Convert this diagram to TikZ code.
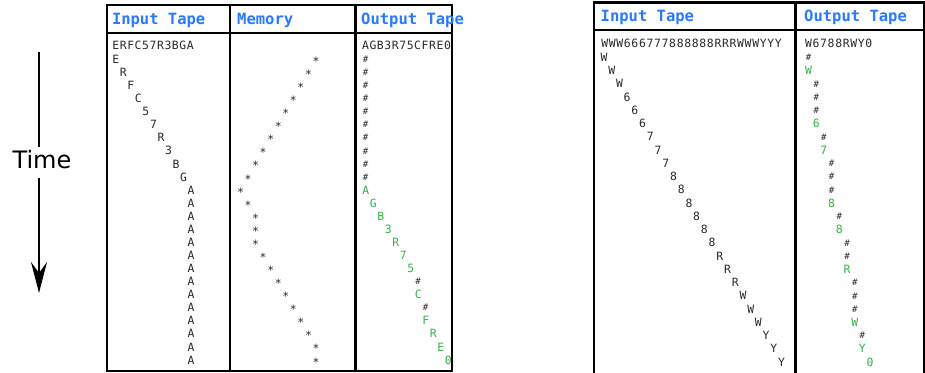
\documentclass[tikz,border=0pt]{standalone}
\usepackage{fontspec}
\setmonofont{DejaVu Sans Mono}
\setsansfont{DejaVu Sans}
\usetikzlibrary{arrows.meta}
\definecolor{hdrblue}{RGB}{41,121,255}
\definecolor{tapegreen}{RGB}{52,178,74}
\definecolor{ink}{RGB}{40,40,40}
\begin{document}
\begin{tikzpicture}[x=1pt,y=-1pt,
  cell/.style={inner sep=0pt, font=\fontsize{11.4}{12}\ttfamily, text=ink},
  hit/.style={cell, text=tapegreen},
  hsh/.style={inner sep=0pt, font=\fontsize{9}{10}\ttfamily, text=ink},
  memstar/.style={cell, yshift=-1.9pt},
  hdr/.style={inner sep=0pt, anchor=base west, font=\fontsize{15.5}{16}\ttfamily\bfseries, text=hdrblue},
  border/.style={line width=2.3pt},
  rule/.style={line width=1.2pt},
  timearrow/.style={line width=1.8pt}]
\useasboundingbox (0,0) rectangle (925,372);

% ---------- Time arrow ----------
\coordinate (tA) at (39,52);
\coordinate (tB) at (39,147);
\node[inner sep=0pt, font=\fontsize{24}{24}\sffamily] (time) at (42,160) {Time};
\coordinate (tC) at (39,178);
\coordinate (tD) at (39,293);
\draw[timearrow] (tA) -- (tB);
\draw[timearrow, -{Stealth[length=31pt,width=16pt,inset=11pt]}] (tC) -- (tD);

% ---------- Left table ----------
\draw[border] (107.3,4.7) rectangle (452,371);
\draw[border] (229.7,4.7) -- (229.7,371);
\draw[border] (355.5,4.7) -- (355.5,371);
\draw[rule] (107.3,33) -- (452,33);
\node[hdr] (lhin) at (111.8,24.6) {Input Tape};
\node[hdr] (lhmem) at (237,24.6) {Memory};
\node[hdr] (lhout) at (361,24.6) {Output Tape};

% header strings
\foreach \c [count=\i from 0] in {E,R,F,C,5,7,R,3,B,G,A}
  \node[cell] (lin0-\i) at ({115.8+\i*7.45},45.7) {\c};
\foreach \c [count=\i from 0] in {A,G,B,3,R,7,5,C,F,R,E,0}
  \node[cell] (lout0-\i) at ({365.5+\i*7.45},45.7) {\c};

% input diagonal
\foreach \c [count=\k] in {E,R,F,C,5,7,R,3,B,G,A,A,A,A,A,A,A,A,A,A,A,A,A,A} {
  \pgfmathsetmacro\col{min(\k-1,10)}
  \node[cell] (lin\k) at ({115.8+\col*7.53},{59.3+(\k-1)*13.07}) {\c};
}
% memory stars
\foreach \col [count=\k] in {10,9,8,7,6,5,4,3,2,1,0,1,2,2,2,3,4,5,6,7,8,9,10,10}
  \node[memstar] (mem\k) at ({240.5+\col*7.55},{59.3+(\k-1)*13.07}) {*};
% output
\foreach \c/\col/\st [count=\k] in {\#/0/hsh,\#/0/hsh,\#/0/hsh,\#/0/hsh,\#/0/hsh,\#/0/hsh,\#/0/hsh,\#/0/hsh,\#/0/hsh,\#/0/hsh,
  A/0/hit,G/1/hit,B/2/hit,3/3/hit,R/4/hit,7/5/hit,5/6/hit,\#/7/hsh,C/7/hit,\#/8/hsh,F/8/hit,R/9/hit,E/10/hit,0/11/hit}
  \node[\st] (lout\k) at ({365.7+\col*7.5},{59.3+(\k-1)*13.07}) {\c};

% ---------- Right table ----------
\draw[border] (594,373) -- (594,2.5) -- (924,2.5) -- (924,373);
\draw[border] (795.5,2.5) -- (795.5,373);
\draw[rule] (594,30) -- (924,30);
\node[hdr] (rhin) at (600.5,21.6) {Input Tape};
\node[hdr] (rhout) at (804,21.6) {Output Tape};

\foreach \c [count=\i from 0] in {W,W,W,6,6,6,7,7,7,8,8,8,8,8,8,R,R,R,W,W,W,Y,Y,Y}
  \node[cell] (rin0-\i) at ({604.7+\i*7.55},43.3) {\c};
\foreach \c [count=\i from 0] in {W,6,7,8,8,R,W,Y,0}
  \node[cell] (rout0-\i) at ({808.5+\i*7.55},43.3) {\c};

\foreach \c [count=\k] in {W,W,W,6,6,6,7,7,7,8,8,8,8,8,8,R,R,R,W,W,W,Y,Y,Y}
  \node[cell] (rin\k) at ({604+(\k-1)*7.72},{57.3+(\k-1)*13.25}) {\c};

\foreach \c/\col/\st [count=\k] in {\#/0/hsh,W/0/hit,\#/1/hsh,\#/1/hsh,\#/1/hsh,6/1/hit,\#/2/hsh,7/2/hit,
  \#/3/hsh,\#/3/hsh,\#/3/hsh,8/3/hit,\#/4/hsh,8/4/hit,\#/5/hsh,\#/5/hsh,R/5/hit,
  \#/6/hsh,\#/6/hsh,\#/6/hsh,W/6/hit,\#/7/hsh,Y/7/hit,0/8/hit}
  \node[\st] (rout\k) at ({808.5+\col*7.7},{57.3+(\k-1)*13.25}) {\c};
\end{tikzpicture}
\end{document}
